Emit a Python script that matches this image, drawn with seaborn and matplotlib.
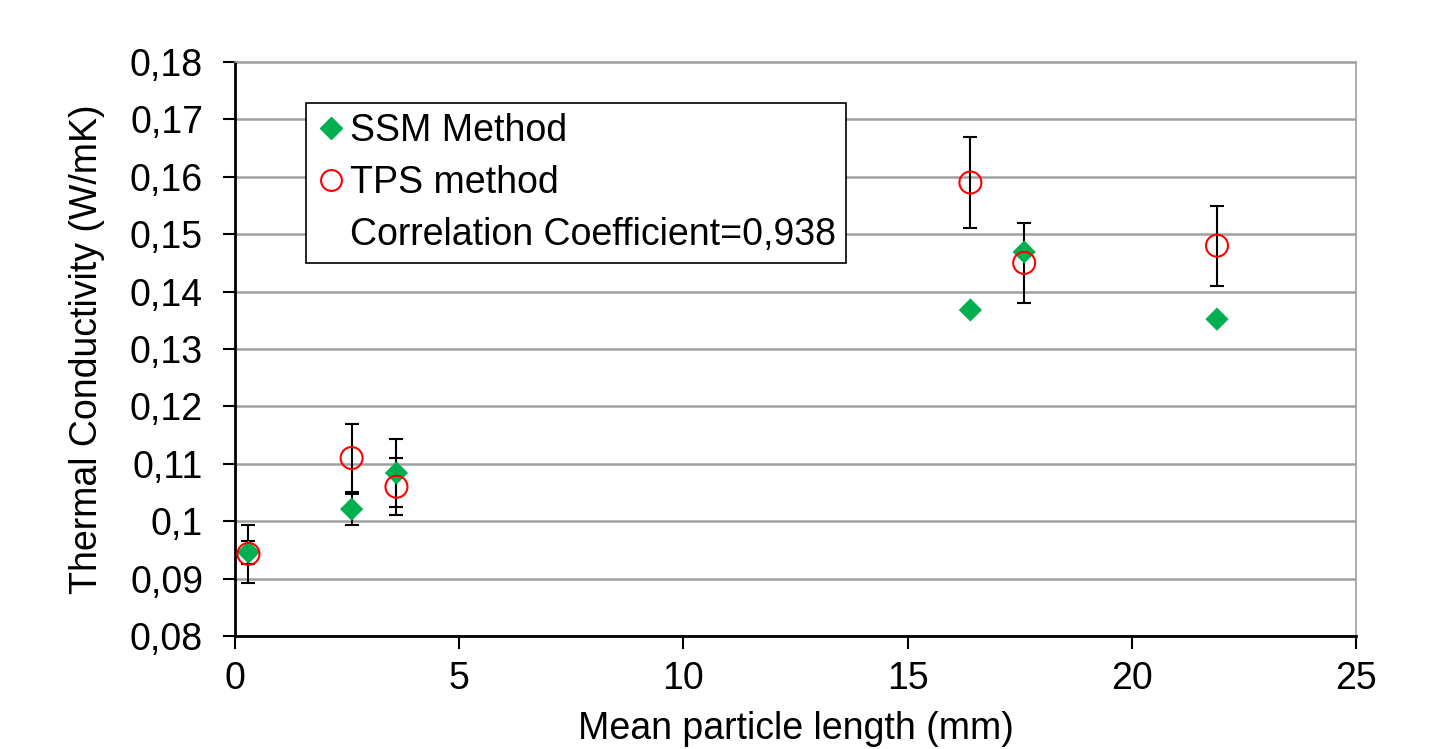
import numpy as np
import pandas as pd
import seaborn as sns
from matplotlib import pyplot as plt
from matplotlib.lines import Line2D
from matplotlib.ticker import FuncFormatter, MultipleLocator

# Data
length_mm = [0.3, 2.6, 3.6, 16.4, 17.6, 21.9]
ssm_k = [0.0946, 0.1021, 0.1084, 0.1368, 0.1469, 0.1352]
ssm_err = [0.002, 0.0027, 0.006, 0.0, 0.0, 0.0]
tps_k = [0.0943, 0.111, 0.106, 0.159, 0.145, 0.148]
tps_err = [0.005, 0.006, 0.005, 0.008, 0.007, 0.007]
corr_label = "Correlation Coefficient=0,938"

GREEN = "#00B050"
RED = "#FF0000"
FS = 27

sns.set_style("white")
plt.rcParams['font.family'] = ['Liberation Sans', 'DejaVu Sans']
plt.rcParams['text.color'] = 'black'
plt.rcParams['axes.labelcolor'] = 'black'

df = pd.DataFrame({'x': length_mm, 'ssm': ssm_k, 'tps': tps_k})

fig = plt.figure(figsize=(14.34, 7.49), dpi=100)
ax = fig.add_axes([0.1639, 0.1509, 0.7817, 0.7663])

# error bars first so markers sit on top
ax.errorbar(length_mm, tps_k, yerr=tps_err, fmt='none', ecolor='black',
            elinewidth=1.5, capsize=5, capthick=1.5, zorder=2)
ax.errorbar(length_mm, ssm_k, yerr=ssm_err, fmt='none', ecolor='black',
            elinewidth=1.5, capsize=5, capthick=1.5, zorder=2)

sns.scatterplot(data=df, x='x', y='ssm', marker='D', s=140, color=GREEN,
                edgecolor='none', ax=ax, zorder=3, legend=False)
sns.scatterplot(data=df, x='x', y='tps', marker='o', s=250, facecolor='none',
                edgecolor=RED, linewidth=1.5, ax=ax, zorder=4, legend=False)

ax.set_xlim(0, 25)
ax.set_ylim(0.08, 0.18)
ax.xaxis.set_major_locator(MultipleLocator(5))
ax.yaxis.set_major_locator(MultipleLocator(0.01))
ax.yaxis.set_major_formatter(FuncFormatter(lambda v, p: f"{v:.2f}".rstrip('0').replace('.', ',')))

ax.grid(True, axis='y', color='#a0a0a0', linewidth=1.8)
ax.grid(False, axis='x')
ax.set_axisbelow(True)

for s in ['top', 'right']:
    ax.spines[s].set_color('#a0a0a0')
    ax.spines[s].set_linewidth(1.2)
for s in ['left', 'bottom']:
    ax.spines[s].set_color('black')
    ax.spines[s].set_linewidth(2)

ax.tick_params(axis='both', direction='out', length=9, width=1.5, colors='black',
               labelsize=FS, left=True, bottom=True)
ax.tick_params(axis='x', pad=9)
ax.tick_params(axis='y', pad=14)

ax.set_xlabel('Mean particle length (mm)', fontsize=FS, labelpad=10)
ax.set_ylabel('Thermal Conductivity (W/mK)', fontsize=FS, labelpad=18)

handles = [
    Line2D([], [], marker='D', linestyle='none', color=GREEN, markersize=11),
    Line2D([], [], marker='o', linestyle='none', markerfacecolor='none',
           markeredgecolor=RED, markeredgewidth=1.5, markersize=15),
    Line2D([], [], linestyle='none'),
]
labels = ['SSM Method', 'TPS method', corr_label]
leg = ax.legend(handles, labels, loc='upper left', bbox_to_anchor=(0.063, 0.929),
                borderaxespad=0, fontsize=FS, frameon=True, fancybox=False,
                handlelength=0.8, handletextpad=0.1, labelspacing=0.42,
                borderpad=0.28)
leg.get_frame().set_edgecolor('black')
leg.get_frame().set_linewidth(1.2)
leg.get_frame().set_alpha(1)

fig.savefig('out.png', dpi=100)
